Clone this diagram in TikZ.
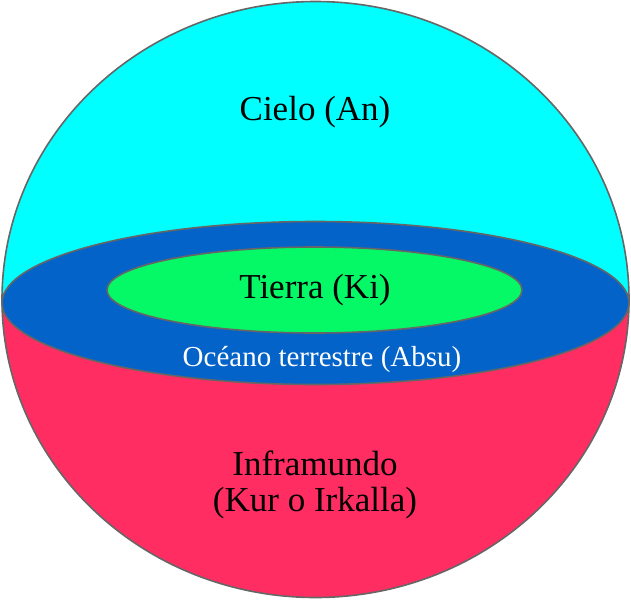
\documentclass[tikz,border=0pt]{standalone}
\usepackage{fontspec}
\setmainfont{Liberation Serif}
\definecolor{skyc}{HTML}{00FFFF}
\definecolor{oceanc}{HTML}{0463C9}
\definecolor{earthc}{HTML}{05F967}
\definecolor{underc}{HTML}{FF2D62}
\definecolor{edgec}{HTML}{666666}
\begin{document}
\begin{tikzpicture}[x=1pt,y=-1pt,
  edge/.style={draw=edgec,line width=1.6pt},
  lbl/.style={font=\fontsize{35}{36}\selectfont,text=black,inner sep=0pt,align=center},
  olbl/.style={font=\fontsize{29}{30}\selectfont,text=white,inner sep=0pt}]
\useasboundingbox (0,0) rectangle (631,600);
\begin{scope}
  \clip (315.5,299.5) ellipse [x radius=313.5, y radius=298];
  \fill[underc] (0,302) rectangle (631,600);
  \fill[skyc] (0,0) rectangle (631,302);
\end{scope}
\path[fill=oceanc,edge] (315.5,303) ellipse [x radius=313.5, y radius=81.5];
\path[fill=earthc,edge] (314.5,290) ellipse [x radius=207.5, y radius=43];
\draw[edge] (315.5,299.5) ellipse [x radius=313.5, y radius=298];
\node[lbl] (sky) at (315,112) {Cielo (An)};
\node[lbl] (earth) at (315,290) {Tierra (Ki)};
\node[olbl] (ocean) at (322,359) {Océano terrestre (Absu)};
\node[lbl] (under) at (315,485) {Inframundo\\(Kur o Irkalla)};
\end{tikzpicture}
\end{document}
